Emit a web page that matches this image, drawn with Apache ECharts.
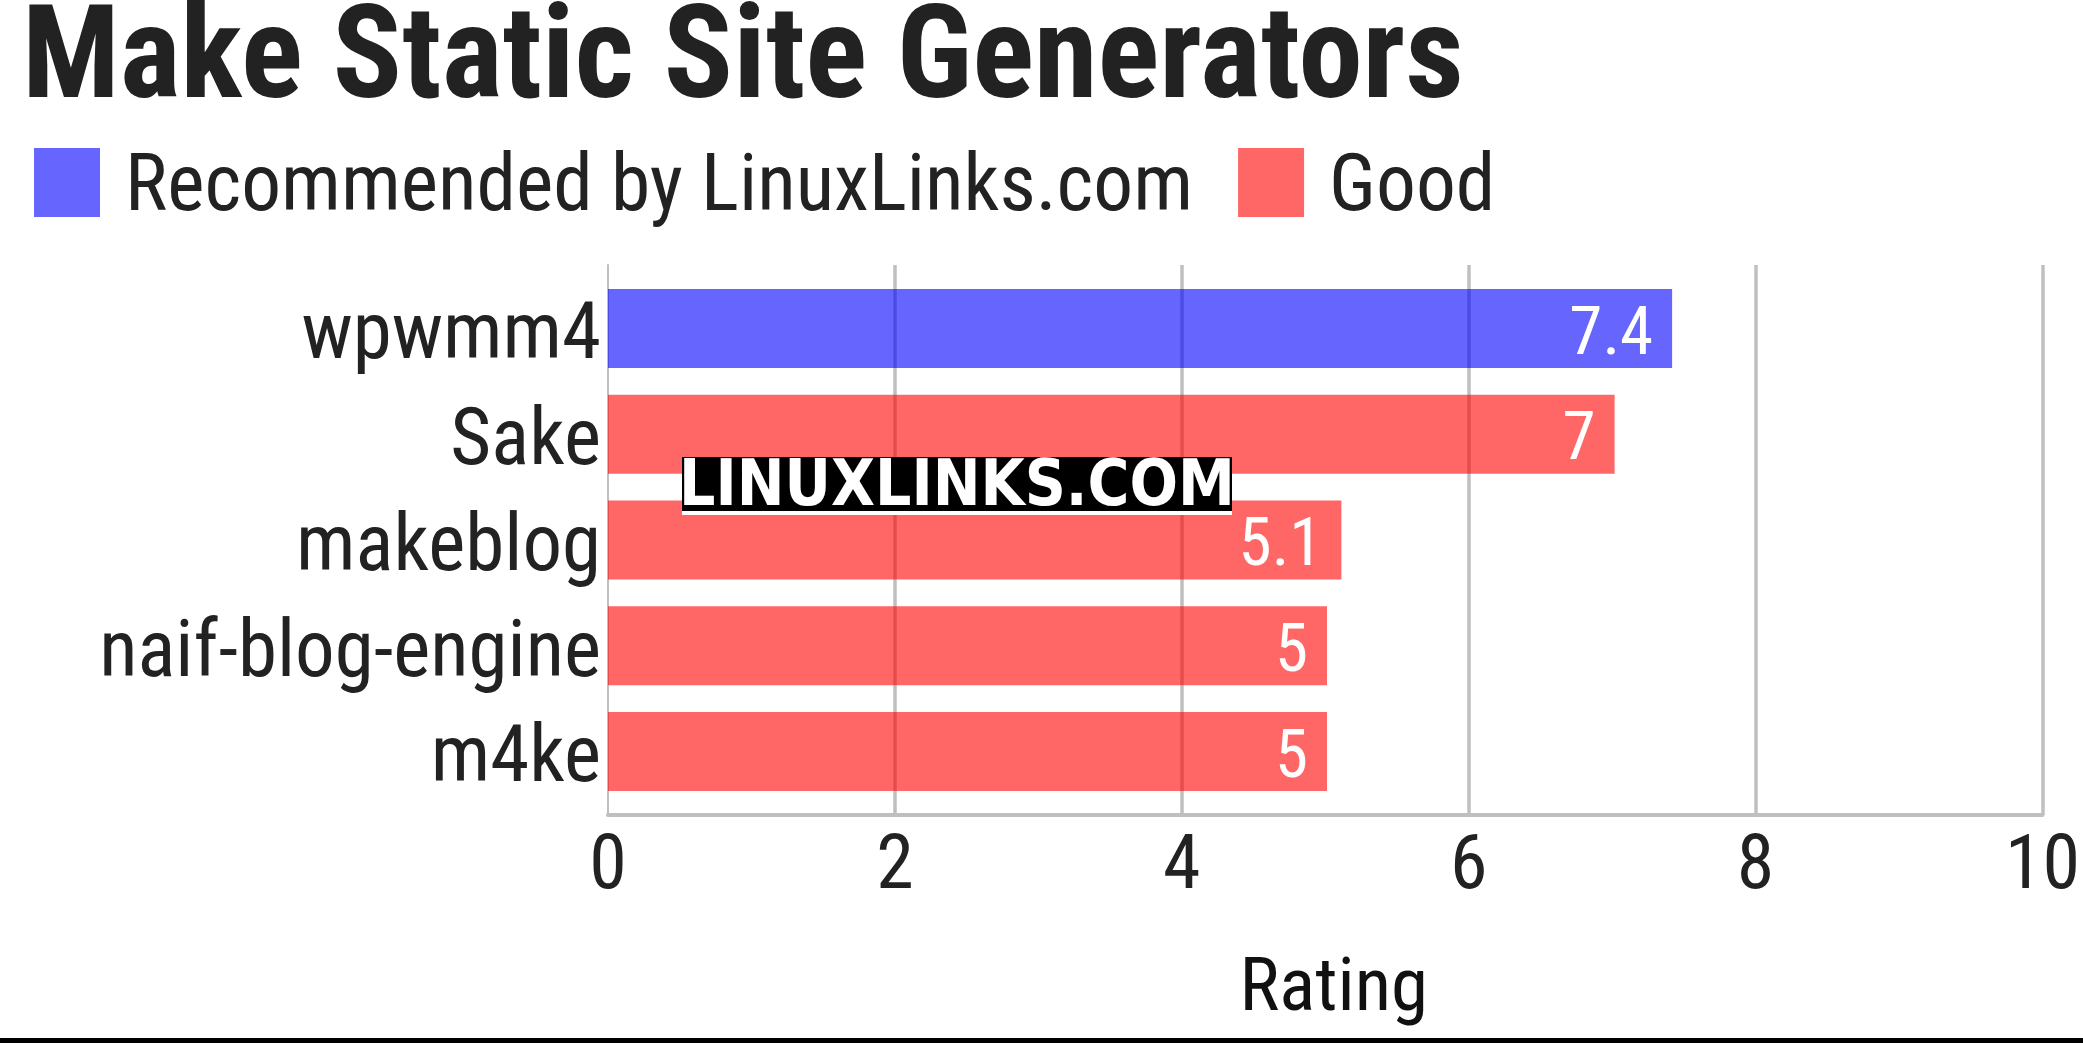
<!DOCTYPE html>
<html><head><meta charset="utf-8">
<script src="https://cdn.jsdelivr.net/npm/echarts@6/dist/echarts.min.js"></script>
<style>html,body{margin:0;padding:0;background:#fff}#c{width:2083px;height:1043px}</style>
</head><body><div id="c"></div>
<script>
// ---- data ----
const titleText = 'Make Static Site Generators';
const categories = ['wpwmm4', 'Sake', 'makeblog', 'naif-blog-engine', 'm4ke'];
const recommendedName = 'Recommended by LinuxLinks.com';
const goodName = 'Good';
const recommendedValues = [7.4, '-', '-', '-', '-'];
const goodValues = ['-', 7, 5.1, 5, 5];
const axisName = 'Rating';
const xMin = 0, xMax = 10, xStep = 2;
const watermarkText = 'LINUXLINKS.COM';

// ---- styles ----
const FONT = '"Roboto Condensed", Roboto, sans-serif';
const TXT = '#222222';
const GRIDC = '#bfbfbf';
const LEGEND_ICON = 'path://M0,0L66,0L66,69L0,69Z M0,84.9L0.1,85L0,85Z';

const chart = echarts.init(document.getElementById('c'));
chart.setOption({
  animation: false, backgroundColor: '#ffffff',
  title: { text: titleText, left: 22, top: 0, padding: 0,
    textStyle: { fontFamily: FONT, fontWeight: 'bold', fontSize: 129, color: TXT } },
  legend: { data: [recommendedName, goodName], left: 34, top: 148, padding: 0,
    icon: LEGEND_ICON, itemWidth: 66, itemHeight: 85, itemGap: 45,
    textStyle: { fontFamily: FONT, fontSize: 79.5, color: TXT, padding: [0, 0, 0, 20] } },
  grid: [
    { left: 608, right: 37, top: 265, height: 550 },
    { left: 608, right: 37, top: 275.6, height: 528.8 },
    { left: 608, right: 37, top: 285.6, height: 528.8 }
  ],
  xAxis: [
    { gridIndex: 0, type: 'value', min: xMin, max: xMax, interval: xStep,
      axisLine: { show: true, lineStyle: { color: GRIDC, width: 4 } }, axisTick: { show: false },
      splitLine: { show: true, showMinLine: false, lineStyle: { color: GRIDC, width: 3.5 } },
      axisLabel: { fontFamily: FONT, fontSize: 76, color: TXT, margin: 16 },
      name: axisName, nameLocation: 'middle', nameGap: 139,
      nameTextStyle: { fontFamily: FONT, fontSize: 75, color: '#111', padding: [0, 0, 0, 17] } },
    { gridIndex: 1, type: 'value', min: xMin, max: xMax, interval: xStep, show: false, splitLine: { show: false } },
    { gridIndex: 2, type: 'value', min: xMin, max: xMax, interval: xStep, show: false, splitLine: { show: false } }
  ],
  yAxis: [
    { gridIndex: 0, type: 'category', data: categories, inverse: true,
      axisLine: { show: true, lineStyle: { color: GRIDC, width: 2 } }, axisTick: { show: false }, axisLabel: { show: false }, splitLine: { show: false } },
    { gridIndex: 1, type: 'category', data: categories, inverse: true, axisLine: { show: false }, axisTick: { show: false },
      axisLabel: { show: false } },
    { gridIndex: 2, type: 'category', data: categories, inverse: true, axisLine: { show: false }, axisTick: { show: false },
      axisLabel: { fontFamily: FONT, fontSize: 79, color: TXT, margin: 7 } }
  ],
  series: [
    { name: recommendedName, type: 'bar', xAxisIndex: 1, yAxisIndex: 1, stack: 'all', data: recommendedValues, barWidth: '74.7%',
      itemStyle: { color: 'rgba(0,0,255,0.6)' },
      label: { show: true, position: 'insideRight', distance: 20, offset: [1, 8.5], color: '#ffffff', fontFamily: FONT, fontSize: 67 } },
    { name: goodName, type: 'bar', xAxisIndex: 1, yAxisIndex: 1, stack: 'all', data: goodValues, barWidth: '74.7%',
      itemStyle: { color: 'rgba(255,0,0,0.6)' },
      label: { show: true, position: 'insideRight', distance: 20, offset: [1, 8.5], color: '#ffffff', fontFamily: FONT, fontSize: 67 } }
  ],
  graphic: [
    { type: 'rect', z: 100, shape: { x: 682, y: 457, width: 550, height: 58 }, style: { fill: '#ffffff' } },
    { type: 'rect', z: 101, shape: { x: 682, y: 457, width: 550, height: 54 }, style: { fill: '#000000' } },
    { type: 'text', z: 102, x: 957, y: 488.5, style: { text: watermarkText, font: 'bold 63.5px "DejaVu Sans Condensed"', fill: '#ffffff', align: 'center', verticalAlign: 'middle' } },
    { type: 'rect', z: 100, shape: { x: 0, y: 1038, width: 2083, height: 5 }, style: { fill: '#000000' } }
  ]
});
</script></body></html>
